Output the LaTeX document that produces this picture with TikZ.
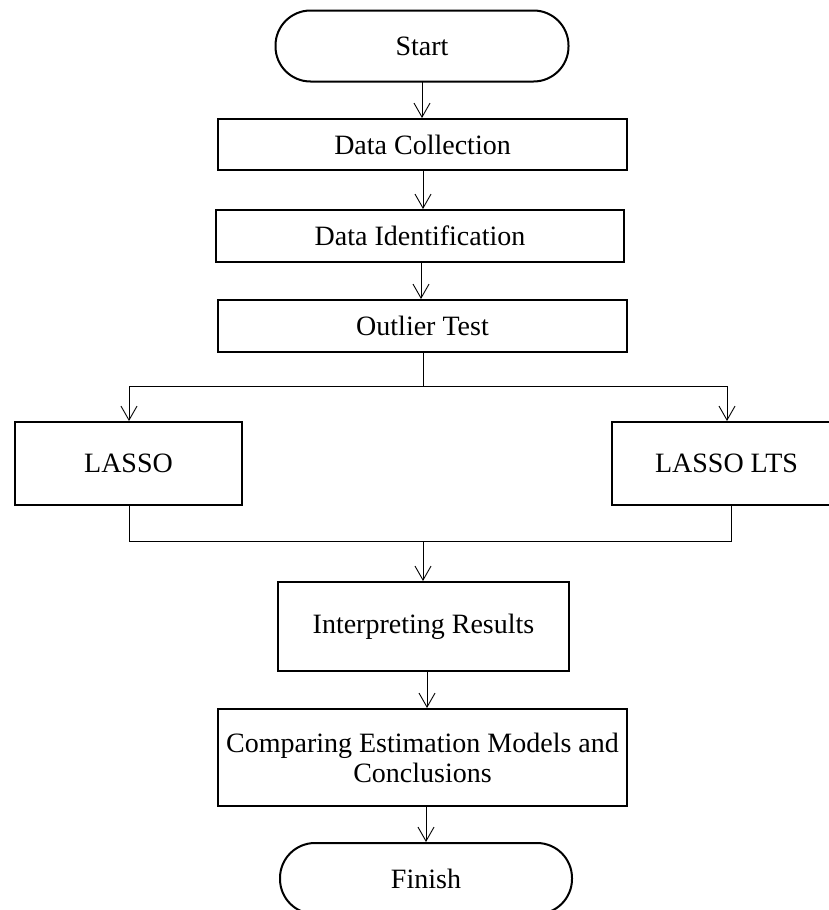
\documentclass[tikz,border=0pt]{standalone}
\usepackage{fontspec}
\setmainfont{Liberation Serif}
\usetikzlibrary{arrows.meta}
\begin{document}
\begin{tikzpicture}[x=1pt,y=-1pt,
  box/.style={draw, line width=2pt, rectangle, inner sep=0pt, align=center,
    font=\fontsize{28}{31}\selectfont},
  term/.style={box, rounded corners=35pt},
  conn/.style={line width=0.9pt},
  arr/.style={conn, -{Straight Barb[length=14pt,width=16pt,line width=0.9pt]}}]
\useasboundingbox (0,0) rectangle (829,910);
\clip (0,0) rectangle (829,910);
\node[term, minimum width=293pt, minimum height=71pt] (start) at (422,46) {Start};
\node[box, minimum width=409pt, minimum height=51pt] (dc) at (422.5,144.5) {Data Collection};
\node[box, minimum width=408pt, minimum height=52pt] (di) at (420,236) {Data Identification};
\node[box, minimum width=409pt, minimum height=52pt] (ot) at (422.5,326) {Outlier Test};
\node[box, minimum width=227pt, minimum height=83pt] (lasso) at (128.5,463.5) {LASSO};
\node[box, minimum width=229pt, minimum height=83pt] (lts) at (726.5,463.5) {LASSO LTS};
\node[box, minimum width=291pt, minimum height=89pt] (ir) at (423.5,626.5) {Interpreting Results};
\node[box, minimum width=409pt, minimum height=97pt] (cm) at (422.5,757.5) {Comparing Estimation Models and\\[-1pt]Conclusions};
\node[term, minimum width=292pt, minimum height=71pt] (fin) at (426,878.5) {Finish};

\coordinate (sp) at (423,386);
\coordinate (spl) at (129,386);
\coordinate (spr) at (727,386);
\coordinate (jl) at (129,541);
\coordinate (jr) at (731,541);
\coordinate (jc) at (423,541);

\draw[arr] (422,82) -- (dc.north -| 422,0);
\draw[arr] (dc.south -| 423,0) -- (di.north -| 423,0);
\draw[arr] (di.south -| 421,0) -- (ot.north -| 421,0);
\draw[conn] (ot.south -| sp) -- (sp);
\draw[conn] (spl) -- (spr);
\draw[arr] (spl) -- (lasso.north -| spl);
\draw[arr] (spr) -- (lts.north -| spr);
\draw[conn] (lasso.south -| jl) -- (jl) -- (jr) -- (lts.south -| jr);
\draw[arr] (jc) -- (ir.north -| jc);
\draw[arr] (ir.south -| 427,0) -- (cm.north -| 427,0);
\draw[arr] (cm.south -| 426,0) -- (fin.north -| 426,0);
\end{tikzpicture}
\end{document}
